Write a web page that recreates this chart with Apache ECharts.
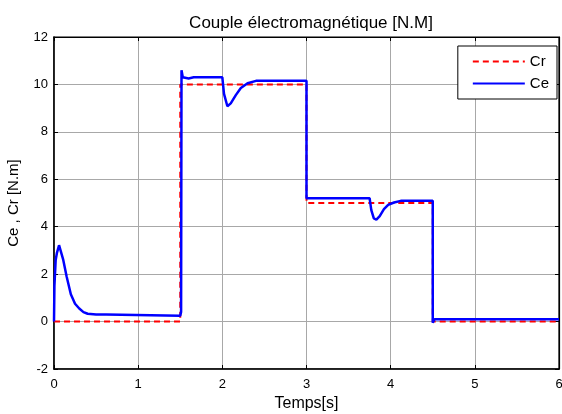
<!DOCTYPE html>
<html>
<head>
<meta charset="utf-8">
<script src="https://cdn.jsdelivr.net/npm/echarts@6/dist/echarts.min.js"></script>
<style>
  html, body { margin: 0; padding: 0; background: #fff; }
  #chart { width: 562px; height: 414px; }
</style>
</head>
<body>
<div id="chart"></div>
<script>
// Load torque reference Cr (step profile)
var crTime  = [0, 1.5, 1.5, 3.0, 3.0, 4.5, 4.5, 6.0];
var crValue = [0, 0,   10,  10,  5,   5,   0,   0];

// Electromagnetic torque Ce delivered by the drive
var ceTime  = [0, 0.005, 0.02, 0.035, 0.06, 0.08, 0.11, 0.15, 0.2, 0.25, 0.3, 0.35, 0.4, 0.5, 0.62, 0.64, 1.5, 1.51, 1.515, 1.53, 1.6, 1.66, 2.0, 2.02, 2.06, 2.1, 2.16, 2.22, 2.3, 2.4, 3.0, 3.0, 3.75, 3.77, 3.8, 3.83, 3.87, 3.92, 3.97, 4.04, 4.12, 4.5, 4.5, 4.52, 6.0];
var ceValue = [0, 1.5, 2.6, 2.9, 3.22, 3.15, 2.6, 1.9, 1.15, 0.75, 0.55, 0.4, 0.33, 0.3, 0.3, 0.25, 0.25, 0.4, 10.6, 10.3, 10.25, 10.3, 10.3, 9.6, 9.08, 9.2, 9.55, 9.85, 10.05, 10.15, 10.15, 5.2, 5.2, 4.7, 4.35, 4.3, 4.45, 4.74, 4.92, 5.02, 5.09, 5.09, -0.05, 0.1, 0.1];

var xTicks = [0, 6, 1];   // min, max, step
var yTicks = [-2, 12, 2];

function pairs(t, v) {
  return t.map(function (x, i) { return [x, v[i]]; });
}

var FONT = 'Liberation Sans';
var chart = echarts.init(document.getElementById('chart'), null, { renderer: 'canvas' });

var gridLine = { show: true, lineStyle: { color: '#a8a8a8', width: 1, type: 'solid' } };

chart.setOption({
  animation: false,
  backgroundColor: '#ffffff',
  title: {
    text: 'Couple électromagnétique [N.M]',
    left: 306, top: 10, textAlign: 'center',
    textStyle: { fontFamily: FONT, fontSize: 17, fontWeight: 'normal', color: '#000' }
  },
  legend: {
    data: ['Cr', 'Ce'],
    right: 5, top: 46,
    orient: 'vertical',
    backgroundColor: '#fff',
    borderColor: '#000', borderWidth: 1,
    padding: [8, 8, 8, 14],
    itemWidth: 52, itemHeight: 10, itemGap: 7,
    itemStyle: { opacity: 0 },
    textStyle: { fontFamily: FONT, fontSize: 15, color: '#000' }
  },
  grid: {
    left: 54, right: 3, top: 37, bottom: 45,
    outerBoundsMode: 'none', containLabel: false,
    show: true, borderColor: '#000', borderWidth: 1.2
  },
  xAxis: [{
    type: 'value', min: xTicks[0], max: xTicks[1], interval: xTicks[2],
    name: 'Temps[s]', nameLocation: 'middle', nameGap: 27,
    nameTextStyle: { fontFamily: FONT, fontSize: 16, color: '#000' },
    axisLine: { show: true, onZero: false, lineStyle: { color: '#000', width: 1.5 } },
    axisTick: { show: true, inside: true, length: 4, lineStyle: { color: '#000' } },
    axisLabel: { fontFamily: FONT, fontSize: 13, color: '#000', margin: 9 },
    splitLine: gridLine
  }, {
    type: 'value', position: 'top', min: xTicks[0], max: xTicks[1], interval: xTicks[2],
    axisLine: { show: true, onZero: false, lineStyle: { color: '#000', width: 1.2 } },
    axisTick: { show: true, inside: true, length: 4, lineStyle: { color: '#000' } },
    axisLabel: { show: false }, splitLine: { show: false }
  }],
  yAxis: [{
    type: 'value', min: yTicks[0], max: yTicks[1], interval: yTicks[2],
    name: 'Ce , Cr [N.m]', nameLocation: 'middle', nameGap: 33, nameRotate: 90,
    nameTextStyle: { fontFamily: FONT, fontSize: 15, color: '#000' },
    axisLine: { show: true, onZero: false, lineStyle: { color: '#000', width: 1.5 } },
    axisTick: { show: true, inside: true, length: 4, lineStyle: { color: '#000' } },
    axisLabel: { fontFamily: FONT, fontSize: 13, color: '#000', margin: 6 },
    splitLine: gridLine
  }, {
    type: 'value', position: 'right', min: yTicks[0], max: yTicks[1], interval: yTicks[2],
    axisLine: { show: true, onZero: false, lineStyle: { color: '#000', width: 1.2 } },
    axisTick: { show: true, inside: true, length: 4, lineStyle: { color: '#000' } },
    axisLabel: { show: false }, splitLine: { show: false }
  }],
  series: [{
    name: 'Cr', type: 'line', symbol: 'none', showSymbol: false,
    data: pairs(crTime, crValue),
    itemStyle: { color: '#ff0000' },
    lineStyle: { color: '#ff0000', width: 2, type: [6, 4] },
    z: 2
  }, {
    name: 'Ce', type: 'line', symbol: 'none', showSymbol: false,
    data: pairs(ceTime, ceValue),
    itemStyle: { color: '#0000ff' },
    lineStyle: { color: '#0000ff', width: 2.5 },
    z: 3
  }]
});
</script>
</body>
</html>
